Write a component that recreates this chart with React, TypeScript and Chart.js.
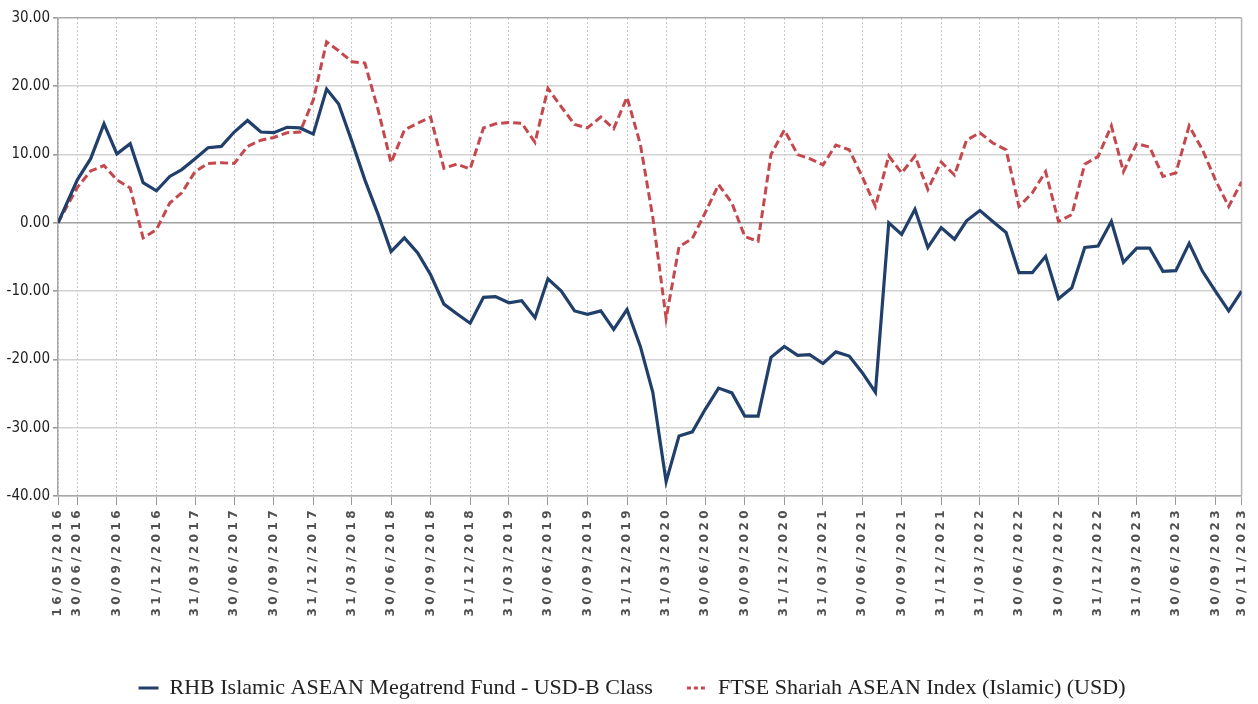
import React, { useEffect, useRef } from "react";
import { Chart, registerables } from "chart.js";

Chart.register(...registerables);

// ---- data ----
const startDate = "16/05/2016";
const firstMonthEnd = { year: 2016, month: 6 };
const lastMonthEnd = { year: 2023, month: 11 };

const xTickLabels = [
  "16/05/2016", "30/06/2016", "30/09/2016", "31/12/2016",
  "31/03/2017", "30/06/2017", "30/09/2017", "31/12/2017",
  "31/03/2018", "30/06/2018", "30/09/2018", "31/12/2018",
  "31/03/2019", "30/06/2019", "30/09/2019", "31/12/2019",
  "31/03/2020", "30/06/2020", "30/09/2020", "31/12/2020",
  "31/03/2021", "30/06/2021", "30/09/2021", "31/12/2021",
  "31/03/2022", "30/06/2022", "30/09/2022", "31/12/2022",
  "31/03/2023", "30/06/2023", "30/09/2023", "30/11/2023",
];

const seriesNames = [
  "RHB Islamic ASEAN Megatrend Fund - USD-B Class",
  "FTSE Shariah ASEAN Index (Islamic) (USD)",
];

const fundValues = [
  0, 6.3, 9.4, 14.5, 10.1, 11.6, 5.9, 4.7,
  6.8, 7.8, 9.4, 11.0, 11.2, 13.3, 15.0, 13.3, 13.2, 14.0, 13.9, 13.0,
  19.6, 17.4, 11.9, 6.3, 1.2, -4.2, -2.2, -4.4, -7.6, -11.9, -13.3, -14.7,
  -10.9, -10.8, -11.7, -11.4, -13.9, -8.2, -10.0, -12.9, -13.4, -12.9, -15.6, -12.7,
  -18.1, -24.8, -37.9, -31.2, -30.6, -27.3, -24.2, -24.9, -28.3, -28.3, -19.7, -18.1,
  -19.4, -19.3, -20.6, -18.9, -19.5, -21.9, -24.8, 0.0, -1.7, 2.0, -3.6, -0.7,
  -2.4, 0.3, 1.8, 0.2, -1.4, -7.3, -7.3, -4.9, -11.1, -9.5, -3.6, -3.4,
  0.2, -5.8, -3.7, -3.7, -7.1, -7.0, -3.0, -7.1, -10.0, -12.9, -10.0,
];

const indexValues = [
  0, 5.2, 7.6, 8.4, 6.3, 5.1, -2.2, -1.0,
  2.9, 4.4, 7.5, 8.7, 8.8, 8.7, 11.2, 12.1, 12.5, 13.2, 13.3, 18.0,
  26.5, 25.2, 23.6, 23.4, 16.5, 8.8, 13.6, 14.6, 15.5, 8.0, 8.6, 7.9,
  13.9, 14.5, 14.7, 14.6, 11.8, 19.7, 17.0, 14.4, 13.9, 15.5, 13.8, 18.4,
  11.5, 0.8, -14.0, -3.5, -2.3, 1.5, 5.6, 2.9, -2.0, -2.7, 10.0, 13.6,
  10.0, 9.4, 8.5, 11.4, 10.7, 6.8, 2.4, 9.8, 7.3, 9.8, 4.9, 8.9,
  7.0, 12.1, 13.2, 11.7, 10.7, 2.4, 4.4, 7.5, 0.2, 1.2, 8.6, 9.7,
  14.2, 7.5, 11.6, 11.1, 6.8, 7.3, 14.2, 10.7, 6.3, 2.4, 6.0,
];

const yMin = -40;
const yMax = 30;

// ---- helpers ----
const DAY = 86400000;
function parseDay(s: string): number {
  const [d, m, y] = s.split("/").map(Number);
  return Date.UTC(y, m - 1, d) / DAY;
}
function pointDays(): number[] {
  const out = [parseDay(startDate)];
  let y = firstMonthEnd.year;
  let m = firstMonthEnd.month;
  while (y < lastMonthEnd.year || (y === lastMonthEnd.year && m <= lastMonthEnd.month)) {
    out.push(Date.UTC(y, m, 0) / DAY); // last day of month m
    m++;
    if (m > 12) { m = 1; y++; }
  }
  return out;
}
const isMajor = (v: number) => Math.abs(v % 10) < 1e-6;

const BLUE = "#213f6b";
const RED = "#c4484e";

export default function App() {
  const ref = useRef<HTMLCanvasElement>(null);

  useEffect(() => {
    document.body.style.margin = "0";
    const days = pointDays();
    const tickDays = xTickLabels.map(parseDay);

    const framePlugin = {
      id: "frame",
      beforeDatasetsDraw(chart: any) {
        const { ctx, chartArea } = chart;
        ctx.save();
        ctx.strokeStyle = "#b4b4b4";
        ctx.lineWidth = 1.5;
        ctx.beginPath();
        ctx.moveTo(chartArea.right, chartArea.top);
        ctx.lineTo(chartArea.right, chartArea.bottom);
        ctx.stroke();
        ctx.restore();
      },
    };

    const legendShiftPlugin = {
      id: "legendShift",
      afterLayout(chart: any) {
        if (chart.legend) chart.legend.left += 20;
      },
    };

    const spacingPlugin = {
      id: "xLabelSpacing",
      beforeDraw(chart: any) {
        const xs = chart.scales.x;
        if (!xs || xs.__wrapped) return;
        const orig = xs.drawLabels.bind(xs);
        xs.drawLabels = (area: any) => {
          const c = chart.ctx as any;
          c.save();
          c.letterSpacing = "3.4px";
          orig(area);
          c.restore();
        };
        xs.__wrapped = true;
      },
    };

    const chart = new Chart(ref.current as HTMLCanvasElement, {
      type: "line",
      data: {
        datasets: [
          {
            label: seriesNames[0],
            data: days.map((d, i) => ({ x: d, y: fundValues[i] })),
            borderColor: BLUE,
            backgroundColor: BLUE,
            borderWidth: 3.2,
            pointRadius: 0,
            tension: 0,
          },
          {
            label: seriesNames[1],
            data: days.map((d, i) => ({ x: d, y: indexValues[i] })),
            borderColor: RED,
            backgroundColor: RED,
            borderWidth: 3,
            borderDash: [8, 4],
            pointRadius: 0,
            tension: 0,
          },
        ],
      },
      options: {
        responsive: false,
        animation: false,
        layout: { padding: { top: 18, right: 14, bottom: -5, left: 0 } },
        plugins: {
          tooltip: { enabled: false },
          legend: {
            position: "bottom",
            labels: {
              usePointStyle: true,
              pointStyle: "line",
              pointStyleWidth: 20,
              padding: 34,
              color: "#222",
              font: { family: "'Liberation Serif', 'Times New Roman', serif", size: 22 },
              generateLabels: (c: any) => {
                const items = (Chart.defaults.plugins.legend.labels as any).generateLabels(c);
                items.forEach((it: any, i: number) => {
                  it.lineWidth = 3;
                  it.lineDash = i === 1 ? [4, 3] : [];
                  it.lineCap = "butt";
                });
                return items;
              },
            },
          },
        },
        scales: {
          x: {
            type: "linear",
            min: tickDays[0],
            max: tickDays[tickDays.length - 1],
            afterBuildTicks: (s: any) => {
              s.ticks = tickDays.map((v) => ({ value: v }));
            },
            afterFit: (s: any) => {
              const lg = s.chart.legend;
              s.height = 709 - (lg ? lg.height : 66) - 496;
            },
            ticks: {
              autoSkip: false,
              maxRotation: 90,
              minRotation: 90,
              padding: 2,
              color: "#505050",
              font: { family: "'DejaVu Sans', sans-serif", size: 12, weight: "bold" },
              callback: (_v: any, i: number) => xTickLabels[i],
            },
            grid: {
              color: "#c8c8c8",
              lineWidth: 1,
              tickLength: 9,
              tickColor: "#9a9a9a",
              tickBorderDash: [],
            },
            border: { color: "#a8a8a8", width: 1.5, dash: [2, 2] },
          },
          y: {
            min: yMin,
            max: yMax,
            afterFit: (s: any) => {
              s.width = 58;
            },
            ticks: {
              stepSize: 2,
              autoSkip: false,
              padding: 3,
              color: "#1e1e1e",
              font: { family: "'DejaVu Sans Condensed', 'DejaVu Sans', sans-serif", size: 15 },
              callback: (v: any) => (isMajor(Number(v)) ? Number(v).toFixed(2) : ""),
            },
            grid: {
              color: (ctx: any) => {
                const v = ctx.tick ? ctx.tick.value : 1;
                if (v === 0) return "#a0a0a0";
                if (v === yMax) return "#a8a8a8";
                return isMajor(v) ? "#d2d2d2" : "rgba(0,0,0,0)";
              },
              lineWidth: (ctx: any) => {
                const v = ctx.tick ? ctx.tick.value : 1;
                return isMajor(v) ? 1.6 : 0.01;
              },
              tickLength: 5,
              tickColor: "#9a9a9a",
            },
            border: { color: "#a8a8a8", width: 1.5 },
          },
        },
      } as any,
      plugins: [framePlugin, spacingPlugin, legendShiftPlugin],
    });

    return () => chart.destroy();
  }, []);

  return (
    <div style={{ width: 1258, height: 704 }}>
      <canvas ref={ref} width={1258} height={704} style={{ display: "block" }} />
    </div>
  );
}
